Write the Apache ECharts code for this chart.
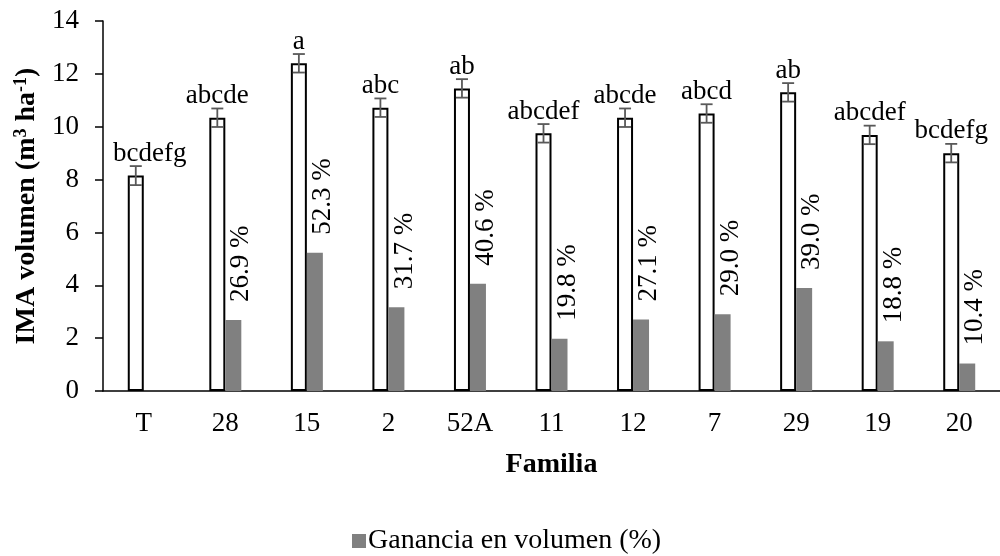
<!DOCTYPE html>
<html>
<head>
<meta charset="utf-8">
<script src="https://cdn.jsdelivr.net/npm/echarts@6/dist/echarts.min.js"></script>
<style>html,body{margin:0;padding:0;background:#fff}#c{width:1000px;height:556px}</style>
</head>
<body>
<div id="c"></div>
<script>
var categories = ['T', '28', '15', '2', '52A', '11', '12', '7', '29', '19', '20'];
var volume = [8.15, 10.34, 12.4, 10.72, 11.45, 9.75, 10.34, 10.5, 11.3, 9.69, 9.0];
var volumeError = [0.36, 0.35, 0.35, 0.35, 0.35, 0.35, 0.35, 0.35, 0.35, 0.35, 0.35];
var letters = ['bcdefg', 'abcde', 'a', 'abc', 'ab', 'abcdef', 'abcde', 'abcd', 'ab', 'abcdef', 'bcdefg'];
var gainPct = [null, 26.9, 52.3, 31.7, 40.6, 19.8, 27.1, 29.0, 39.0, 18.8, 10.4];
var yTicks = [0, 2, 4, 6, 8, 10, 12, 14];

var FONT = '"Liberation Serif", "Times New Roman", serif';
var FS = 27;
var BW = 16;
var gainBars = gainPct.map(function (p) { return p == null ? null : p / 10; });

var chart = echarts.init(document.getElementById('c'));
chart.setOption({
  animation: false,
  textStyle: { fontFamily: FONT },
  grid: { left: 103, right: -9, top: 21, bottom: 165, containLabel: false },
  legend: {
    data: ['Ganancia en volumen (%)'],
    bottom: 1,
    left: 352,
    padding: 0,
    itemWidth: 14, itemHeight: 14, itemGap: 4,
    icon: 'rect',
    textStyle: { fontFamily: FONT, fontSize: 28, color: '#000', padding: [0, 0, 0, -3] }
  },
  xAxis: {
    type: 'category',
    data: categories,
    name: 'Familia',
    nameLocation: 'middle',
    nameGap: 60,
    nameTextStyle: { fontFamily: FONT, fontSize: 28, fontWeight: 'bold', color: '#000' },
    axisLine: { lineStyle: { color: '#000', width: 1.5 } },
    axisTick: { show: false },
    axisLabel: { fontFamily: FONT, fontSize: FS, color: '#000', margin: 19 }
  },
  yAxis: {
    type: 'value',
    min: 0, max: 14, interval: 2,
    name: '{b|IMA volumen (m}{s|3}{b| ha}{s|-1}{b|)}',
    nameLocation: 'middle',
    nameGap: 60,
    nameTextStyle: {
      rich: {
        b: { fontFamily: FONT, fontSize: 28, fontWeight: 'bold', color: '#000' },
        s: { fontFamily: FONT, fontSize: 18, fontWeight: 'bold', color: '#000', verticalAlign: 'top', padding: [0, 0, 12, 0] }
      }
    },
    axisLine: { show: true, lineStyle: { color: '#000', width: 1.5 } },
    axisTick: { show: true, length: 8, lineStyle: { color: '#000', width: 1.5 } },
    splitLine: { show: false },
    axisLabel: {
      fontFamily: FONT, fontSize: FS, color: '#000', margin: 24,
      formatter: function (v) { return yTicks.indexOf(v) >= 0 ? String(v) : ''; }
    }
  },
  series: [
    {
      name: 'IMA volumen',
      type: 'bar',
      data: volume,
      barWidth: BW,
      barGap: '0%',
      itemStyle: { color: '#fff', borderColor: '#000', borderWidth: 2 }
    },
    {
      name: 'Ganancia en volumen (%)',
      type: 'bar',
      data: gainBars,
      barWidth: BW,
      barGap: '0%',
      itemStyle: { color: '#808080' },
      label: {
        show: true,
        position: 'top',
        rotate: 90,
        align: 'left',
        verticalAlign: 'middle',
        distance: 18,
        offset: [0, 8],
        fontFamily: FONT, fontSize: FS, color: '#000',
        formatter: function (p) {
          var v = gainPct[p.dataIndex];
          return v == null ? '' : v.toFixed(1) + ' %';
        }
      }
    },
    {
      name: 'err',
      type: 'custom',
      data: volume.map(function (v, i) { return [i, v, volumeError[i]]; }),
      z: 10,
      renderItem: function (params, api) {
        var i = api.value(0), v = api.value(1), e = api.value(2);
        var hi = api.coord([i, v + e]);
        var lo = api.coord([i, v - e]);
        var x = hi[0] - BW / 2;
        var cap = 6;
        var st = { stroke: '#595959', lineWidth: 1.8 };
        var lx = x + (i === 0 ? 14 : 0);
        return {
          type: 'group',
          children: [
            { type: 'line', shape: { x1: x, y1: hi[1], x2: x, y2: lo[1] }, style: st },
            { type: 'line', shape: { x1: x - cap, y1: hi[1], x2: x + cap, y2: hi[1] }, style: st },
            { type: 'line', shape: { x1: x - cap, y1: lo[1], x2: x + cap, y2: lo[1] }, style: st },
            { type: 'text', style: { text: letters[i], x: lx, y: hi[1] + 1, align: 'center', verticalAlign: 'bottom', font: FS + 'px ' + FONT, fill: '#000' } }
          ]
        };
      }
    }
  ]
});
</script>
</body>
</html>
